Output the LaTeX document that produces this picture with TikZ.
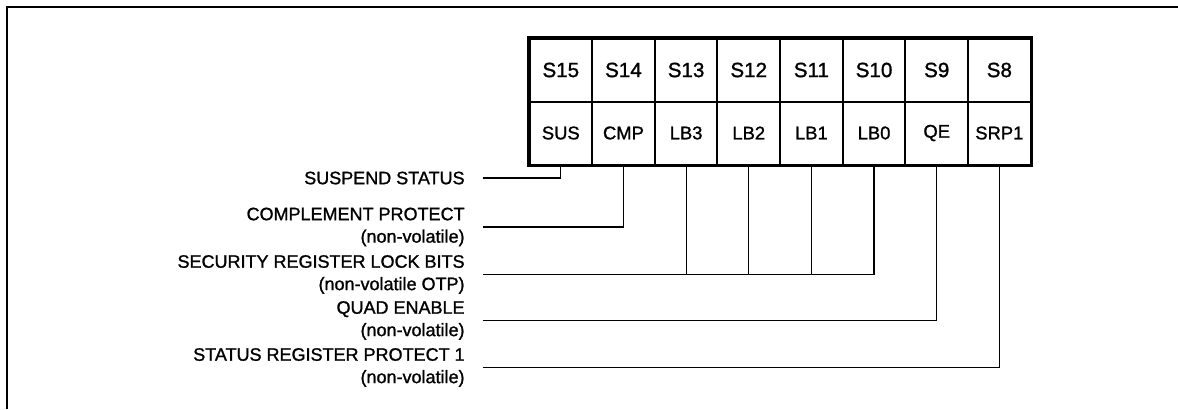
\documentclass[tikz,border=0pt]{standalone}
\usepackage{fontspec}
\setmainfont{Liberation Sans}
\newfontfamily\medsans{Liberation Sans}[FakeBold=1.2]
\tikzset{
  bitcell/.style={draw, line width=1pt, minimum width=31.3pt, minimum height=31.5pt, inner sep=0pt},
  desc/.style={anchor=east, align=right, inner sep=0pt, font=\medsans\fontsize{9}{11.2}\selectfont},
  wire/.style={line width=0.6pt}
}

\begin{document}
\begin{tikzpicture}[x=0.5pt, y=-0.5pt]
        \useasboundingbox (0,0) rectangle (1178,409);
        % frame
        \draw[line width=1pt] (7,409) -- (7,6.5) -- (1178,6.5);
        % register cells
        \foreach \bit/\name/\id [count=\i from 0] in {15/SUS/sus, 14/CMP/cmp, 13/LB3/lbthree, 12/LB2/lbtwo, 11/LB1/lbone, 10/LB0/lbzero, 9/QE/qe, 8/SRP1/srpone} {
          \node[bitcell, font=\medsans\fontsize{10.3}{12}\selectfont] (s\bit) at (560.8+62.65*\i, 70) {S\bit};
          \node[bitcell, font=\medsans\fontsize{9.2}{11}\selectfont] (\id) at (560.8+62.65*\i, 133) {\name};
        }
        \draw[line width=1.6pt] (s15.north west) rectangle (srpone.south east);
        % descriptions
        \node[desc] (susd) at (465,178) {SUSPEND STATUS};
        \node[desc] (cmpd) at (465,227) {COMPLEMENT PROTECT\\(non-volatile)};
        \node[desc] (lockd) at (465,274.5) {SECURITY REGISTER LOCK BITS\\(non-volatile OTP)};
        \node[desc] (qed) at (465,320.5) {QUAD ENABLE\\(non-volatile)};
        \node[desc] (srpd) at (465,367.5) {STATUS REGISTER PROTECT 1\\(non-volatile)};
        % connectors
        \draw[wire] (sus.south) |- ([xshift=9pt]susd.east);
        \draw[wire] (cmp.south) |- ([xshift=9pt]cmpd.east);
        \draw[wire] (lbzero.south) |- ([xshift=9pt]lockd.east);
        \foreach \id in {lbthree, lbtwo, lbone}
          \draw[wire] (\id.south) -- (\id.south |- lockd.east);
        \draw[wire] (qe.south) |- ([xshift=9pt]qed.east);
        \draw[wire] (srpone.south) |- ([xshift=9pt]srpd.east);
      \end{tikzpicture}
\end{document}
